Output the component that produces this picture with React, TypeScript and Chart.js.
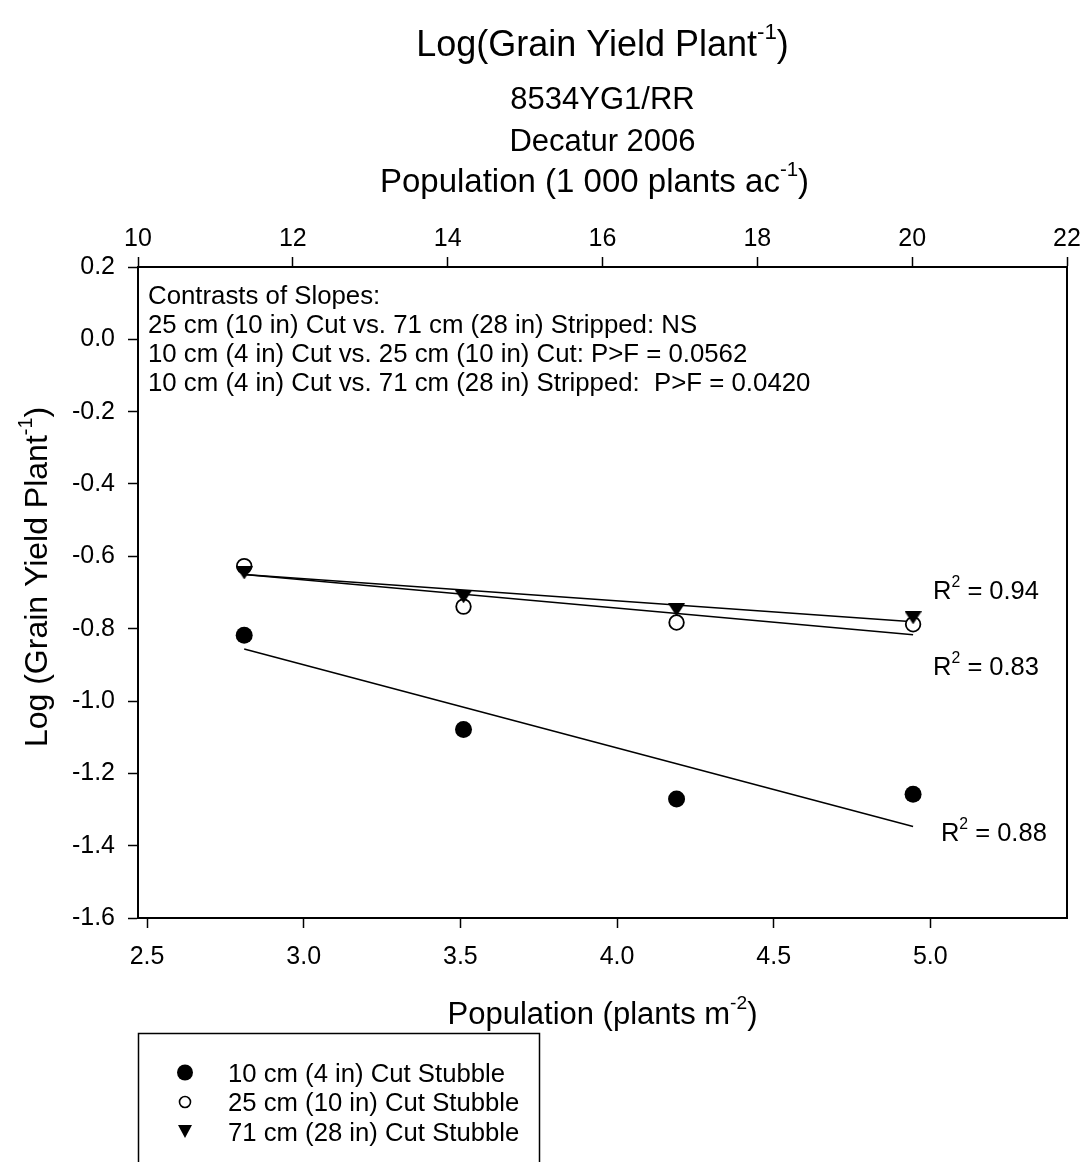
import React, { useEffect, useRef } from 'react';
import { Chart, registerables } from 'chart.js';

Chart.register(...registerables);

// ---------------- data ----------------
const seriesNames = [
  '10 cm (4 in) Cut Stubble',
  '25 cm (10 in) Cut Stubble',
  '71 cm (28 in) Cut Stubble',
];
const popM2 = [2.81, 3.51, 4.19, 4.945];
const yield10cm = [-0.818, -1.079, -1.271, -1.258];
const yield25cm = [-0.627, -0.739, -0.783, -0.788];
const yield71cm = [-0.646, -0.712, -0.748, -0.77];
const fitX = [2.81, 4.945];
const fit10cm = [-0.856, -1.347];
const fit25cm = [-0.65, -0.817];
const fit71cm = [-0.65, -0.781];
const r2Text = ['0.88', '0.83', '0.94'];
const r2PosX = [4.97, 4.945, 4.945];
const r2PosY = [-1.387, -0.928, -0.718];
const bottomTicks = [2.5, 3.0, 3.5, 4.0, 4.5, 5.0];
const topTicks = [10, 12, 14, 16, 18, 20, 22];
const yTicks = [-1.6, -1.4, -1.2, -1.0, -0.8, -0.6, -0.4, -0.2, 0.0, 0.2];
const THOUSAND_PER_AC_PER_M2 = 4.0469;
const contrastLines = [
  'Contrasts of Slopes:',
  '25 cm (10 in) Cut vs. 71 cm (28 in) Stripped: NS',
  '10 cm (4 in) Cut vs. 25 cm (10 in) Cut: P>F = 0.0562',
  '10 cm (4 in) Cut vs. 71 cm (28 in) Stripped:  P>F = 0.0420',
];

const FONT = '"Liberation Sans", Arial, Helvetica, sans-serif';

type Part = { t: string; sup?: boolean };

function drawRich(
  ctx: CanvasRenderingContext2D,
  parts: Part[],
  x: number,
  y: number,
  size: number,
  align: 'left' | 'center',
  sx = 1
) {
  const supSize = size * 0.62;
  const widths = parts.map((p) => {
    ctx.font = `${p.sup ? supSize : size}px ${FONT}`;
    return ctx.measureText(p.t).width;
  });
  const total = widths.reduce((a, b) => a + b, 0);
  ctx.save();
  ctx.translate(x, y);
  ctx.scale(sx, 1);
  ctx.textBaseline = 'alphabetic';
  ctx.textAlign = 'left';
  ctx.fillStyle = '#000';
  let cx = align === 'center' ? -total / 2 : 0;
  parts.forEach((p, i) => {
    ctx.font = `${p.sup ? supSize : size}px ${FONT}`;
    ctx.fillText(p.t, cx, p.sup ? -size * 0.48 : 0);
    cx += widths[i];
  });
  ctx.restore();
}

function makeTriangle(w: number, h: number) {
  const c = document.createElement('canvas');
  c.width = w;
  c.height = h;
  const g = c.getContext('2d')!;
  g.fillStyle = '#000';
  g.beginPath();
  g.moveTo(0, 0);
  g.lineTo(w, 0);
  g.lineTo(w / 2, h);
  g.closePath();
  g.fill();
  return c;
}

const textPlugin = {
  id: 'textPlugin',
  afterDraw(chart: any) {
    const ctx: CanvasRenderingContext2D = chart.ctx;
    const area = chart.chartArea;
    const xs = chart.scales.x;
    const ys = chart.scales.y;
    const cxTitle = (area.left + area.right) / 2;
    ctx.save();
    // titles
    drawRich(ctx, [{ t: 'Log(Grain Yield Plant' }, { t: '-1', sup: true }, { t: ')' }], cxTitle, 56, 36, 'center');
    drawRich(ctx, [{ t: '8534YG1/RR' }], cxTitle, 109, 31, 'center');
    drawRich(ctx, [{ t: 'Decatur 2006' }], cxTitle, 151, 31, 'center');
    drawRich(ctx, [{ t: 'Population (1 000 plants ac' }, { t: '-1', sup: true }, { t: ')' }], cxTitle - 8, 192, 33, 'center');
    drawRich(ctx, [{ t: 'Population (plants m' }, { t: '-2', sup: true }, { t: ')' }], cxTitle, 1024, 31, 'center');
    // y title
    ctx.save();
    ctx.translate(47, 577);
    ctx.rotate(-Math.PI / 2);
    drawRich(ctx, [{ t: 'Log (Grain Yield Plant' }, { t: '-1', sup: true }, { t: ')' }], 0, 0, 32, 'center');
    ctx.restore();
    // contrasts
    contrastLines.forEach((line, i) => {
      drawRich(ctx, [{ t: line }], area.left + 10, 303.5 + 29.1 * i, 25.8, 'left');
    });
    // R2 labels
    r2Text.forEach((t, i) => {
      const px = xs.getPixelForValue(r2PosX[i]) + 20;
      const py = ys.getPixelForValue(r2PosY[i]);
      drawRich(ctx, [{ t: 'R' }, { t: '2', sup: true }, { t: ' = ' + t }], px, py, 25.5, 'left');
    });
    // legend
    ctx.strokeStyle = '#000';
    ctx.lineWidth = 1.5;
    ctx.strokeRect(138.5, 1033.5, 401, 200);
    const rowY = [1072.5, 1102, 1131.5];
    const mx = 185;
    ctx.fillStyle = '#000';
    ctx.beginPath();
    ctx.arc(mx, rowY[0], 8, 0, Math.PI * 2);
    ctx.fill();
    ctx.beginPath();
    ctx.arc(mx, rowY[1], 5.5, 0, Math.PI * 2);
    ctx.fillStyle = '#fff';
    ctx.fill();
    ctx.lineWidth = 1.6;
    ctx.stroke();
    ctx.fillStyle = '#000';
    ctx.beginPath();
    ctx.moveTo(mx - 7, rowY[2] - 6.5);
    ctx.lineTo(mx + 7, rowY[2] - 6.5);
    ctx.lineTo(mx, rowY[2] + 6.5);
    ctx.closePath();
    ctx.fill();
    seriesNames.forEach((name, i) => {
      drawRich(ctx, [{ t: name }], 228, rowY[i] + 9, 25.7, 'left');
    });
    ctx.restore();
  },
};

export default function App() {
  const ref = useRef<HTMLCanvasElement>(null);

  useEffect(() => {
    const canvas = ref.current!;
    const tri = makeTriangle(17, 13);
    const pts = (ys: number[]) => popM2.map((x, i) => ({ x, y: ys[i] }));
    const fit = (ys: number[]) => fitX.map((x, i) => ({ x, y: ys[i] }));
    const tickFont = { family: FONT, size: 25 };
    const gridCfg = {
      display: true,
      drawOnChartArea: false,
      drawTicks: true,
      tickLength: 10,
      tickWidth: 1.5,
      tickColor: '#000',
    };
    const borderCfg = { display: true, color: '#000', width: 2 };
    const fitStyle = {
      showLine: true,
      pointRadius: 0,
      borderColor: '#000',
      borderWidth: 1.5,
      order: 3,
    };

    const chart = new Chart(canvas, {
      type: 'scatter',
      data: {
        datasets: [
          { label: 'fit ' + seriesNames[0], data: fit(fit10cm), ...fitStyle },
          { label: 'fit ' + seriesNames[1], data: fit(fit25cm), ...fitStyle },
          { label: 'fit ' + seriesNames[2], data: fit(fit71cm), ...fitStyle },
          {
            label: seriesNames[0],
            data: pts(yield10cm),
            pointStyle: 'circle',
            pointRadius: 8.5,
            backgroundColor: '#000',
            borderColor: '#000',
            borderWidth: 0,
            order: 2,
          },
          {
            label: seriesNames[1],
            data: pts(yield25cm),
            pointStyle: 'circle',
            pointRadius: 7.3,
            backgroundColor: '#fff',
            borderColor: '#000',
            borderWidth: 1.8,
            order: 1,
          },
          {
            label: seriesNames[2],
            data: pts(yield71cm),
            pointStyle: tri as any,
            pointRadius: 8,
            backgroundColor: '#000',
            borderColor: '#000',
            order: 0,
          },
        ] as any,
      },
      options: {
        animation: false,
        responsive: false,
        devicePixelRatio: 1,
        layout: { padding: 0 },
        plugins: {
          legend: { display: false },
          tooltip: { enabled: false },
          title: { display: false },
        },
        scales: {
          x: {
            type: 'linear',
            position: 'bottom',
            min: topTicks[0] / THOUSAND_PER_AC_PER_M2,
            max: topTicks[topTicks.length - 1] / THOUSAND_PER_AC_PER_M2,
            afterBuildTicks: (a: any) => {
              a.ticks = bottomTicks.map((v) => ({ value: v }));
            },
            afterFit: (a: any) => {
              a.height = 244;
            },
            ticks: {
              callback: (v: any) => Number(v).toFixed(1),
              font: tickFont,
              color: '#000',
              padding: 14,
              maxRotation: 0,
              autoSkip: false,
            },
            grid: gridCfg,
            border: borderCfg,
          },
          x2: {
            type: 'linear',
            position: 'top',
            min: topTicks[0],
            max: topTicks[topTicks.length - 1],
            afterBuildTicks: (a: any) => {
              a.ticks = topTicks.map((v) => ({ value: v }));
            },
            afterFit: (a: any) => {
              a.height = 267;
            },
            ticks: {
              callback: (v: any) => String(v),
              font: tickFont,
              color: '#000',
              padding: 3,
              maxRotation: 0,
              autoSkip: false,
            },
            grid: gridCfg,
            border: borderCfg,
          },
          y: {
            type: 'linear',
            position: 'left',
            min: yTicks[0],
            max: yTicks[yTicks.length - 1],
            afterBuildTicks: (a: any) => {
              a.ticks = yTicks.map((v) => ({ value: v }));
            },
            afterFit: (a: any) => {
              a.width = 138;
            },
            ticks: {
              callback: (v: any) => Number(v).toFixed(1),
              font: tickFont,
              color: '#000',
              padding: 13,
              autoSkip: false,
            },
            grid: gridCfg,
            border: borderCfg,
          },
          y2: {
            type: 'linear',
            position: 'right',
            min: yTicks[0],
            max: yTicks[yTicks.length - 1],
            afterFit: (a: any) => {
              a.width = 19;
            },
            ticks: { display: false },
            grid: { display: true, drawOnChartArea: false, drawTicks: false },
            border: borderCfg,
          },
        },
      } as any,
      plugins: [textPlugin],
    });
    return () => chart.destroy();
  }, []);

  return (
    <div style={{ position: 'absolute', left: 0, top: 0, width: 1086, height: 1162, background: '#fff', overflow: 'hidden' }}>
      <canvas ref={ref} width={1086} height={1162} style={{ display: 'block', width: 1086, height: 1162 }} />
    </div>
  );
}
